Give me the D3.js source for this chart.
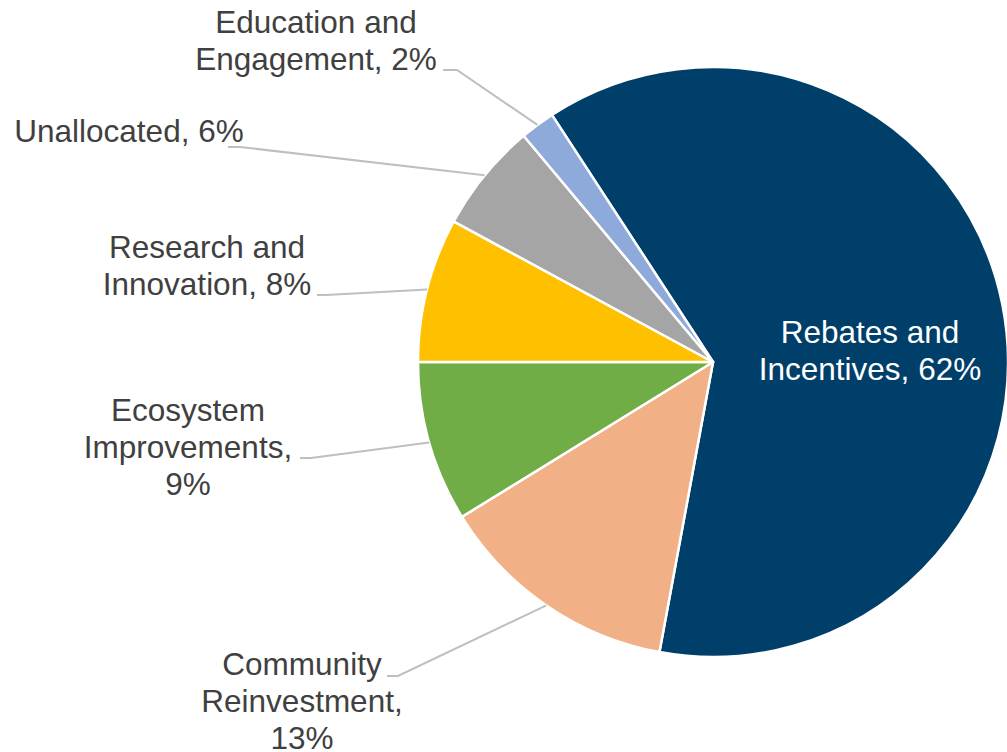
<!DOCTYPE html>
<html>
<head>
<meta charset="utf-8">
<script src="https://cdn.jsdelivr.net/npm/d3@7"></script>
<style>
  html, body { margin: 0; padding: 0; background: #fff; overflow: hidden; }
  text { font-family: "Liberation Sans", Arial, sans-serif; }
</style>
</head>
<body>
<div id="chart"></div>
<script>
// data, clockwise from the Rebates slice
const categories = [
  "Rebates and Incentives",
  "Community Reinvestment",
  "Ecosystem Improvements",
  "Research and Innovation",
  "Unallocated",
  "Education and Engagement"
];
const shares = [62.1, 13.3, 8.8, 7.9, 6.0, 1.9];
const pctLabels = ["62%", "13%", "9%", "8%", "6%", "2%"];
const labelLines = [
  ["Rebates and", "Incentives, 62%"],
  ["Community", "Reinvestment,", "13%"],
  ["Ecosystem", "Improvements,", "9%"],
  ["Research and", "Innovation, 8%"],
  ["Unallocated, 6%"],
  ["Education and", "Engagement, 2%"]
];
const colors = ["#003f6a", "#f1b085", "#70ad47", "#ffc000", "#a5a5a5", "#8eaadb"];

// label layout (centre x, first baseline, leader start) - not data
const labelLayout = [
  { x: 870, y: 343, fill: "#ffffff", leader: null },
  { x: 302, y: 675, fill: "#404040", leader: [387, 676, 398, 676] },
  { x: 188, y: 421, fill: "#404040", leader: [300, 458, 311, 458] },
  { x: 207, y: 258, fill: "#404040", leader: [317, 295, 326, 295] },
  { x: 129, y: 142, fill: "#404040", leader: [228, 147, 240, 147] },
  { x: 316, y: 33,  fill: "#404040", leader: [443, 70, 457, 70] }
];

const width = 1007, height = 752;
const cx = 713, cy = 362, radius = 295;
const lineH = 37;

const svg = d3.select("#chart")
  .append("svg")
  .attr("width", width)
  .attr("height", height);

const g = svg.append("g")
  .attr("transform", `translate(${cx},${cy})`);

const start = -33.1 * Math.PI / 180;
const pie = d3.pie()
  .sort(null)
  .value(d => d.value)
  .startAngle(start)
  .endAngle(start + 2 * Math.PI);

const data = categories.map((c, i) => ({ name: c, value: shares[i], pct: pctLabels[i] }));
const arcs = pie(data);

const arc = d3.arc().innerRadius(0).outerRadius(radius);
const edgeArc = d3.arc().innerRadius(radius).outerRadius(radius);

// slices
g.selectAll("path.slice")
  .data(arcs)
  .enter()
  .append("path")
  .attr("class", "slice")
  .attr("d", arc)
  .attr("fill", (d, i) => colors[i])
  .attr("stroke", "#ffffff")
  .attr("stroke-width", 2.5)
  .attr("stroke-linejoin", "round");

// leader lines (label -> middle of slice edge)
arcs.forEach((d, i) => {
  const lay = labelLayout[i];
  if (!lay.leader) return;
  const [ex, ey] = edgeArc.centroid(d);
  const pts = [
    [lay.leader[0], lay.leader[1]],
    [lay.leader[2], lay.leader[3]],
    [cx + ex, cy + ey]
  ];
  svg.append("path")
    .attr("d", d3.line()(pts))
    .attr("fill", "none")
    .attr("stroke", "#bfbfbf")
    .attr("stroke-width", 2);
});

// labels
arcs.forEach((d, i) => {
  const lay = labelLayout[i];
  const t = svg.append("text")
    .attr("text-anchor", "middle")
    .attr("fill", lay.fill)
    .style("font-size", "31.5px");
  labelLines[i].forEach((ln, k) => {
    t.append("tspan")
      .attr("x", lay.x)
      .attr("y", lay.y + k * lineH)
      .text(ln);
  });
});
</script>
</body>
</html>
